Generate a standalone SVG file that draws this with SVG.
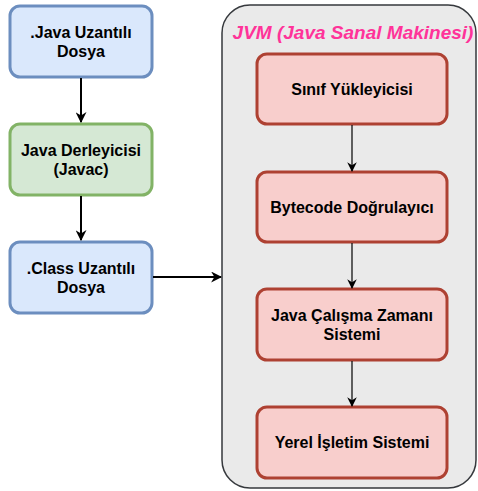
<svg xmlns="http://www.w3.org/2000/svg" width="478" height="491" viewBox="0 0 478 491">
<defs>
<marker id="ah" viewBox="0 0 10 10" refX="9" refY="5" markerWidth="5.5" markerHeight="5.5" orient="auto" markerUnits="strokeWidth"><path d="M0,0 L10,5 L0,10 L3,5 Z" fill="#000"/></marker>
<marker id="ah2" viewBox="0 0 10 10" refX="9" refY="5" markerWidth="8" markerHeight="8" orient="auto" markerUnits="strokeWidth"><path d="M0,0 L10,5 L0,10 L3,5 Z" fill="#000"/></marker>
</defs>
<style>
text{font-family:"Liberation Sans",Arial,sans-serif;font-weight:bold;font-size:16px;fill:#000;text-anchor:middle}
.blue{fill:#dae8fc;stroke:#6c8ebf;stroke-width:3}
.green{fill:#d5e8d4;stroke:#82b366;stroke-width:3}
.red{fill:#f8cecc;stroke:#ae4132;stroke-width:3}
.c{fill:none;stroke:#000}
</style>
<g id="jvm">
<rect x="222" y="5" width="254" height="483" rx="28" fill="#eaeaea" stroke="#36393d" stroke-width="1.5"/>
<text x="353" y="39" style="font-style:italic;font-size:19px;fill:#ff3399">JVM (Java Sanal Makinesi)</text>
</g>
<g id="java-file">
<rect class="blue" x="10" y="6" width="142" height="71" rx="10"/>
<text x="81" y="38">.Java Uzantılı</text><text x="81" y="57">Dosya</text>
</g>
<g id="javac">
<rect class="green" x="10" y="124" width="142" height="71" rx="10"/>
<text x="81" y="156">Java Derleyicisi</text><text x="81" y="175">(Javac)</text>
</g>
<g id="class-file">
<rect class="blue" x="10" y="242" width="142" height="71" rx="10"/>
<text x="81" y="274">.Class Uzantılı</text><text x="81" y="293">Dosya</text>
</g>
<g id="class-loader">
<rect class="red" x="257" y="54" width="190" height="70" rx="10"/>
<text x="352" y="95">Sınıf Yükleyicisi</text>
</g>
<g id="bytecode-verifier">
<rect class="red" x="257" y="172" width="190" height="70" rx="10"/>
<text x="352" y="213">Bytecode Doğrulayıcı</text>
</g>
<g id="runtime">
<rect class="red" x="257" y="289" width="190" height="71" rx="10"/>
<text x="352" y="321">Java Çalışma Zamanı</text><text x="352" y="340">Sistemi</text>
</g>
<g id="native-os">
<rect class="red" x="257" y="407" width="190" height="71" rx="10"/>
<text x="352" y="448">Yerel İşletim Sistemi</text>
</g>
<g id="connectors">
<path class="c" d="M81,78 V122" stroke-width="2" marker-end="url(#ah)"/>
<path class="c" d="M81,196 V240" stroke-width="2" marker-end="url(#ah)"/>
<path class="c" d="M153,277 H221" stroke-width="2" marker-end="url(#ah)"/>
<path class="c" d="M352,125 V171" stroke-width="1.2" marker-end="url(#ah2)"/>
<path class="c" d="M352,243 V288" stroke-width="1.2" marker-end="url(#ah2)"/>
<path class="c" d="M352,361 V406" stroke-width="1.2" marker-end="url(#ah2)"/>
</g>
</svg>
